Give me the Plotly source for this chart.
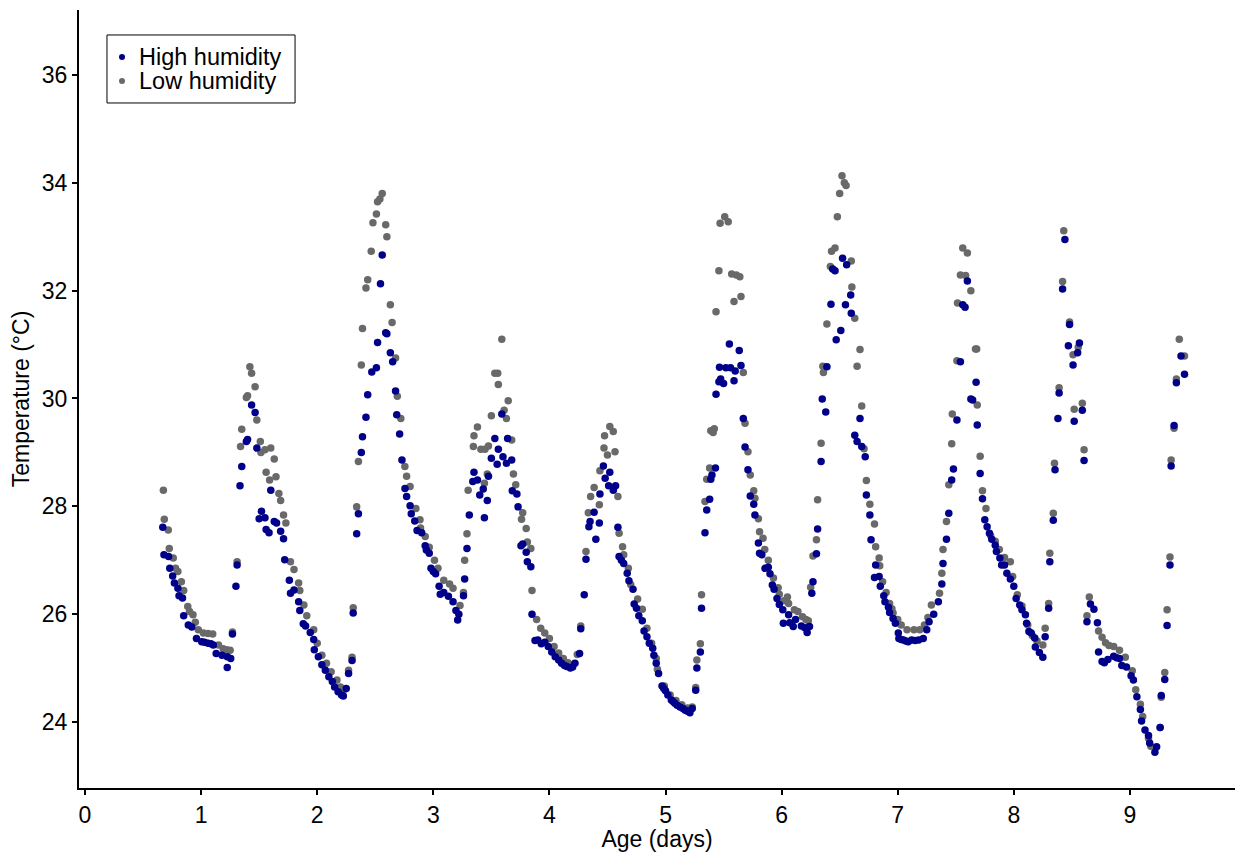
import plotly.graph_objects as go

# (age in days, temperature in °C)
high_humidity = [
    (0.67, 27.61), (0.68, 27.10), (0.72, 27.07), (0.73, 26.85), (0.755, 26.71), (0.77, 26.58),
    (0.80, 26.48), (0.81, 26.34), (0.84, 26.30), (0.85, 25.97), (0.89, 25.80), (0.92, 25.76),
    (0.96, 25.55), (1.005, 25.49), (1.03, 25.48), (1.06, 25.46), (1.085, 25.45), (1.105, 25.43),
    (1.13, 25.27), (1.18, 25.24), (1.225, 25.21), (1.225, 25.01), (1.255, 25.18),
    (1.27, 25.63), (1.30, 26.52), (1.31, 26.91), (1.335, 28.38), (1.35, 28.74), (1.39, 29.20),
    (1.40, 29.24), (1.435, 29.88), (1.465, 29.74), (1.48, 29.08), (1.50, 27.77), (1.52, 27.91),
    (1.55, 27.79), (1.56, 27.57), (1.585, 27.51), (1.60, 28.30), (1.63, 27.72), (1.65, 27.69),
    (1.685, 27.54), (1.71, 27.40), (1.72, 27.01), (1.76, 26.63), (1.77, 26.39), (1.80, 26.45),
    (1.84, 26.23), (1.85, 26.07), (1.88, 25.82), (1.90, 25.78), (1.94, 25.66), (1.97, 25.53),
    (1.975, 25.34), (2.01, 25.21), (2.04, 25.06), (2.07, 24.96), (2.10, 24.84), (2.13, 24.75),
    (2.15, 24.65), (2.18, 24.56), (2.21, 24.50), (2.225, 24.48), (2.25, 24.62),
    (2.27, 24.90), (2.30, 25.14), (2.31, 26.02), (2.34, 27.49), (2.355, 27.86), (2.38, 29.00),
    (2.39, 29.29), (2.42, 29.65), (2.435, 30.07), (2.47, 30.49), (2.51, 30.57), (2.52, 31.04),
    (2.545, 32.13), (2.56, 32.66), (2.59, 31.22), (2.60, 31.20), (2.63, 30.85), (2.65, 30.68),
    (2.675, 30.14), (2.685, 29.70), (2.71, 29.34), (2.73, 28.86), (2.756, 28.33), (2.77, 28.18),
    (2.80, 28.01), (2.81, 27.86), (2.84, 27.73), (2.86, 27.55), (2.90, 27.51), (2.93, 27.27),
    (2.94, 27.19), (2.965, 27.13), (2.98, 26.85), (3.00, 26.79), (3.02, 26.75), (3.05, 26.52),
    (3.06, 26.37), (3.09, 26.40), (3.13, 26.33), (3.17, 26.23), (3.195, 26.07), (3.21, 25.89),
    (3.22, 26.00), (3.26, 26.34),
    (3.27, 26.65), (3.29, 27.22), (3.31, 27.84), (3.34, 28.46), (3.35, 28.63), (3.38, 28.49),
    (3.40, 28.21), (3.43, 28.32), (3.44, 27.79), (3.465, 28.11), (3.475, 28.56), (3.50, 28.89),
    (3.53, 29.26), (3.55, 28.78), (3.56, 29.06), (3.59, 29.71), (3.60, 28.92), (3.63, 28.80),
    (3.64, 29.26), (3.675, 28.86), (3.68, 28.29), (3.72, 28.23), (3.73, 27.99), (3.755, 27.27),
    (3.77, 27.30), (3.80, 27.15), (3.81, 26.97), (3.84, 26.88), (3.85, 26.00), (3.876, 25.51),
    (3.90, 25.52), (3.93, 25.45), (3.96, 25.48), (3.99, 25.40), (4.02, 25.30), (4.05, 25.21),
    (4.08, 25.15), (4.105, 25.09), (4.13, 25.05), (4.15, 25.03), (4.18, 25.00), (4.20, 25.02),
    (4.22, 25.09), (4.26, 25.27),
    (4.27, 25.73), (4.30, 26.36), (4.315, 27.02), (4.34, 27.62), (4.35, 27.72), (4.385, 27.89),
    (4.40, 27.39), (4.43, 27.69), (4.435, 28.23), (4.465, 28.75), (4.48, 28.52), (4.51, 28.38),
    (4.52, 28.63), (4.55, 28.30), (4.57, 28.38), (4.59, 27.61), (4.60, 27.07), (4.62, 27.00),
    (4.64, 26.94), (4.67, 26.76), (4.685, 26.62), (4.72, 26.46), (4.73, 26.19), (4.75, 26.11),
    (4.77, 25.97), (4.80, 25.88), (4.815, 25.69), (4.84, 25.58), (4.86, 25.46), (4.89, 25.37),
    (4.90, 25.24), (4.92, 25.09), (4.94, 24.90), (4.97, 24.67), (4.985, 24.62), (5.00, 24.58),
    (5.02, 24.50), (5.05, 24.41), (5.065, 24.38), (5.08, 24.35), (5.10, 24.31), (5.125, 24.28),
    (5.15, 24.25), (5.17, 24.22), (5.19, 24.20), (5.21, 24.17), (5.23, 24.25), (5.26, 24.59),
    (5.27, 25.00), (5.30, 25.30), (5.31, 26.11), (5.34, 27.51), (5.355, 27.93), (5.38, 28.13),
    (5.39, 28.50), (5.40, 28.58), (5.43, 28.71), (5.435, 30.08), (5.46, 30.31), (5.465, 30.58),
    (5.475, 30.36), (5.50, 30.28), (5.52, 30.57), (5.55, 31.01), (5.56, 30.57), (5.59, 30.33),
    (5.60, 30.51), (5.635, 30.89), (5.65, 30.61), (5.67, 29.63), (5.685, 29.10), (5.71, 28.68),
    (5.73, 28.19), (5.76, 28.04), (5.77, 27.84), (5.80, 27.32), (5.81, 27.13), (5.83, 27.10),
    (5.857, 26.85), (5.885, 26.87), (5.90, 26.75), (5.92, 26.54), (5.935, 26.46), (5.96, 26.29),
    (5.98, 26.18), (6.01, 26.08), (6.015, 25.83), (6.06, 25.99), (6.07, 25.84), (6.10, 25.77),
    (6.12, 25.90), (6.17, 25.78), (6.20, 25.75), (6.22, 25.66), (6.24, 25.77),
    (6.26, 26.39), (6.27, 26.60), (6.30, 27.12), (6.31, 27.58), (6.34, 28.83), (6.35, 29.99),
    (6.38, 29.75), (6.39, 30.59), (6.425, 31.75), (6.44, 32.40), (6.46, 32.37), (6.47, 31.09),
    (6.51, 31.26), (6.525, 32.60), (6.55, 31.74), (6.56, 32.48), (6.595, 31.92), (6.60, 31.58),
    (6.63, 29.32), (6.65, 29.20), (6.675, 29.63), (6.69, 29.11), (6.72, 28.92), (6.73, 28.21),
    (6.76, 27.84), (6.77, 27.38), (6.80, 26.68), (6.81, 26.91), (6.84, 26.70), (6.85, 26.52),
    (6.88, 26.34), (6.89, 26.23), (6.92, 26.13), (6.93, 26.03), (6.96, 25.92), (6.98, 25.83),
    (7.005, 25.65), (7.01, 25.55), (7.03, 25.53), (7.05, 25.52), (7.07, 25.50), (7.09, 25.49),
    (7.12, 25.52), (7.15, 25.51), (7.18, 25.52), (7.22, 25.55), (7.25, 25.71),
    (7.27, 25.86), (7.31, 26.00), (7.35, 26.23), (7.38, 26.56), (7.39, 26.94), (7.42, 27.39),
    (7.44, 27.87), (7.465, 28.49), (7.48, 28.69), (7.51, 29.60), (7.54, 30.68), (7.56, 31.74),
    (7.58, 31.69), (7.60, 32.18), (7.63, 29.99), (7.645, 29.97), (7.675, 30.30), (7.685, 29.51),
    (7.71, 28.61), (7.73, 28.14), (7.75, 27.75), (7.77, 27.62), (7.79, 27.50), (7.81, 27.39),
    (7.84, 27.28), (7.85, 27.16), (7.88, 27.04), (7.895, 26.91), (7.92, 26.91), (7.94, 26.76),
    (7.97, 26.65), (8.00, 26.52), (8.02, 26.29), (8.05, 26.17), (8.07, 26.08), (8.10, 25.99),
    (8.11, 25.83), (8.13, 25.68), (8.15, 25.65), (8.18, 25.56), (8.185, 25.39), (8.22, 25.29),
    (8.25, 25.20),
    (8.27, 25.58), (8.30, 26.11), (8.31, 26.97), (8.34, 27.74), (8.355, 28.68), (8.38, 29.63),
    (8.39, 30.10), (8.42, 32.03), (8.44, 32.95), (8.47, 30.98), (8.48, 31.37), (8.51, 30.62),
    (8.52, 29.58), (8.55, 30.85), (8.565, 31.03), (8.59, 29.78), (8.605, 28.85), (8.63, 25.86),
    (8.66, 26.19), (8.69, 26.09), (8.72, 25.84), (8.73, 25.30), (8.76, 25.12), (8.78, 25.10),
    (8.81, 25.16), (8.86, 25.22), (8.885, 25.19), (8.91, 25.18), (8.93, 25.05), (8.97, 25.02),
    (9.01, 24.86), (9.03, 24.78), (9.06, 24.47), (9.09, 24.23), (9.10, 24.02), (9.13, 23.85),
    (9.16, 23.75), (9.17, 23.61), (9.215, 23.44), (9.23, 23.54), (9.26, 23.90),
    (9.27, 24.49), (9.30, 24.79), (9.32, 25.79), (9.345, 26.91), (9.355, 28.75), (9.38, 29.50),
    (9.40, 30.29), (9.44, 30.79), (9.47, 30.45),
]

low_humidity = [
    (0.675, 28.30), (0.683, 27.76), (0.717, 27.56), (0.726, 27.22), (0.76, 27.04), (0.78, 26.85),
    (0.80, 26.79), (0.83, 26.60), (0.85, 26.44), (0.885, 26.14), (0.90, 26.05), (0.93, 25.99),
    (0.95, 25.85), (0.976, 25.71), (1.02, 25.65), (1.06, 25.64), (1.10, 25.63), (1.15, 25.43),
    (1.19, 25.36), (1.22, 25.34), (1.25, 25.33),
    (1.27, 25.67), (1.31, 26.97), (1.34, 29.11), (1.35, 29.43), (1.39, 30.02), (1.40, 30.05),
    (1.42, 30.59), (1.435, 30.47), (1.465, 30.22), (1.48, 29.60), (1.51, 29.20), (1.515, 29.00),
    (1.55, 29.05), (1.56, 28.63), (1.59, 28.49), (1.60, 29.08), (1.63, 28.88), (1.645, 28.55),
    (1.67, 28.24), (1.685, 28.11), (1.71, 27.84), (1.73, 27.69), (1.77, 26.97), (1.80, 26.83),
    (1.84, 26.58), (1.85, 26.44), (1.885, 26.17), (1.91, 25.97), (1.97, 25.71), (2.00, 25.46),
    (2.04, 25.24), (2.08, 25.09), (2.12, 24.93), (2.17, 24.78), (2.20, 24.65), (2.23, 24.60),
    (2.27, 24.96), (2.30, 25.20), (2.31, 26.12), (2.34, 27.99), (2.355, 28.83), (2.38, 30.62),
    (2.39, 31.30), (2.42, 32.05), (2.435, 32.20), (2.465, 32.73), (2.48, 33.26), (2.51, 33.42),
    (2.52, 33.65), (2.54, 33.70), (2.56, 33.80), (2.59, 33.22), (2.60, 33.00), (2.63, 31.74),
    (2.645, 31.41), (2.675, 30.75), (2.69, 30.04), (2.72, 29.63), (2.755, 28.74), (2.77, 28.56),
    (2.80, 28.37), (2.85, 27.96), (2.885, 27.75), (2.89, 27.60), (2.93, 27.44), (2.965, 27.24),
    (3.01, 27.00), (3.04, 26.85), (3.09, 26.63), (3.14, 26.56), (3.17, 26.48), (3.23, 26.16),
    (3.26, 26.40),
    (3.27, 27.00), (3.29, 27.49), (3.30, 28.30), (3.345, 29.11), (3.35, 29.31), (3.38, 29.47),
    (3.41, 29.06), (3.44, 28.43), (3.445, 29.06), (3.465, 28.60), (3.475, 29.12), (3.50, 29.68),
    (3.53, 30.47), (3.555, 30.47), (3.56, 30.26), (3.59, 31.10), (3.61, 29.78), (3.63, 29.63),
    (3.645, 29.96), (3.675, 29.23), (3.69, 28.60), (3.71, 28.40), (3.76, 27.76), (3.77, 27.88),
    (3.80, 27.59), (3.81, 27.34), (3.84, 27.22), (3.85, 26.44), (3.89, 25.90), (3.925, 25.74),
    (3.96, 25.65), (4.00, 25.55), (4.04, 25.40), (4.08, 25.28), (4.12, 25.18), (4.16, 25.10),
    (4.20, 25.06), (4.24, 25.25),
    (4.27, 25.78), (4.315, 27.16), (4.335, 27.88), (4.355, 28.18), (4.385, 28.35), (4.43, 28.03),
    (4.435, 28.66), (4.47, 29.08), (4.475, 29.31), (4.50, 28.95), (4.52, 29.48), (4.55, 29.39),
    (4.565, 29.01), (4.59, 28.18), (4.60, 27.50), (4.63, 27.25), (4.64, 27.10), (4.68, 26.85),
    (4.70, 26.55), (4.76, 26.28), (4.80, 26.09), (4.84, 25.74), (4.88, 25.46), (4.92, 25.18),
    (4.93, 24.98), (4.99, 24.67), (5.04, 24.50), (5.09, 24.40), (5.14, 24.32), (5.19, 24.26),
    (5.23, 24.28), (5.26, 24.64),
    (5.27, 25.15), (5.30, 25.45), (5.31, 26.36), (5.34, 28.09), (5.355, 28.50), (5.38, 28.71),
    (5.39, 29.40), (5.41, 29.37), (5.42, 29.44), (5.435, 31.61), (5.46, 32.37), (5.47, 33.25),
    (5.51, 33.37), (5.54, 33.28), (5.57, 32.31), (5.59, 31.80), (5.61, 32.29), (5.64, 32.26),
    (5.65, 31.89), (5.67, 30.48), (5.685, 29.54), (5.71, 29.01), (5.73, 28.58), (5.76, 28.29),
    (5.77, 28.15), (5.80, 27.77), (5.81, 27.53), (5.84, 27.41), (5.855, 27.20), (5.885, 27.00),
    (5.93, 26.67), (5.97, 26.49), (5.98, 26.37), (6.02, 26.25), (6.05, 26.32), (6.06, 26.20),
    (6.11, 26.08), (6.14, 26.05), (6.18, 25.95), (6.21, 25.90), (6.23, 25.88),
    (6.25, 26.50), (6.27, 27.08), (6.30, 27.38), (6.31, 28.12), (6.34, 29.17), (6.355, 30.60),
    (6.36, 30.48), (6.39, 31.38), (6.42, 32.45), (6.43, 32.73), (6.46, 32.79), (6.48, 33.37),
    (6.50, 33.80), (6.52, 34.13), (6.54, 34.00), (6.555, 33.95), (6.60, 32.55), (6.605, 32.07),
    (6.63, 31.49), (6.65, 30.60), (6.675, 30.91), (6.69, 29.86), (6.71, 29.07), (6.73, 28.48),
    (6.76, 28.04), (6.80, 27.67), (6.81, 27.25), (6.84, 27.04), (6.845, 26.90), (6.87, 26.60),
    (6.90, 26.40), (6.93, 26.20), (6.95, 26.10), (6.96, 26.02), (7.00, 25.90), (7.03, 25.80),
    (7.08, 25.71), (7.14, 25.71), (7.19, 25.71), (7.23, 25.80),
    (7.26, 25.94), (7.29, 26.17), (7.36, 26.39), (7.38, 26.76), (7.39, 27.20), (7.42, 27.72),
    (7.44, 28.40), (7.465, 29.16), (7.47, 29.71), (7.51, 30.70), (7.515, 31.77), (7.54, 32.29),
    (7.56, 32.79), (7.585, 32.28), (7.60, 32.70), (7.63, 32.00), (7.67, 30.92), (7.68, 30.92),
    (7.685, 29.88), (7.71, 28.93), (7.73, 28.29), (7.76, 27.96), (7.80, 27.46), (7.84, 27.35),
    (7.875, 27.20), (7.92, 27.05), (7.97, 26.97), (7.99, 26.70), (8.03, 26.36), (8.07, 26.15),
    (8.12, 25.80), (8.16, 25.60), (8.20, 25.50), (8.25, 25.43),
    (8.27, 25.74), (8.30, 26.20), (8.31, 27.13), (8.34, 27.87), (8.35, 28.80), (8.39, 30.20),
    (8.42, 32.17), (8.43, 33.11), (8.48, 31.42), (8.51, 30.81), (8.52, 29.80), (8.555, 30.95),
    (8.59, 29.91), (8.605, 29.05), (8.63, 25.97), (8.65, 26.32), (8.73, 25.69), (8.76, 25.57),
    (8.79, 25.47), (8.82, 25.42), (8.86, 25.40), (8.91, 25.33), (8.96, 25.20), (9.02, 24.95),
    (9.05, 24.60), (9.09, 24.33), (9.11, 24.10), (9.16, 23.70), (9.18, 23.55), (9.26, 23.90),
    (9.27, 24.46), (9.30, 24.92), (9.32, 26.08), (9.345, 27.06), (9.355, 28.86), (9.38, 29.45),
    (9.40, 30.36), (9.425, 31.10), (9.47, 30.79),
]

x_ticks = [0, 1, 2, 3, 4, 5, 6, 7, 8, 9]
y_ticks = [24, 26, 28, 30, 32, 34, 36]
series_names = ["High humidity", "Low humidity"]
series_colors = ["#00008B", "#696969"]

FONT = "Liberation Sans, Arial, sans-serif"

fig = go.Figure()
fig.add_trace(go.Scatter(
    x=[p[0] for p in low_humidity], y=[p[1] for p in low_humidity],
    mode="markers", name=series_names[1], showlegend=False,
    marker=dict(color=series_colors[1], size=7.5, line=dict(width=0)),
))
fig.add_trace(go.Scatter(
    x=[p[0] for p in high_humidity], y=[p[1] for p in high_humidity],
    mode="markers", name=series_names[0], showlegend=False,
    marker=dict(color=series_colors[0], size=7.5, line=dict(width=0)),
))

# Compact legend box (ggplot-like spacing), placed in paper coordinates
legend_x0, legend_x1 = 0.0242, 0.1869
legend_y0, legend_y1 = 0.8805, 0.9679
legend_rows_y = [0.9396, 0.9087]
marker_x = 0.0372
text_x = 0.0502

shapes = [dict(type="rect", xref="paper", yref="paper",
               x0=legend_x0, x1=legend_x1, y0=legend_y0, y1=legend_y1,
               line=dict(color="black", width=1), fillcolor="white", layer="above")]
annotations = []
for name, color, yy in zip(series_names, series_colors, legend_rows_y):
    shapes.append(dict(type="circle", xref="paper", yref="paper",
                       xsizemode="pixel", ysizemode="pixel",
                       xanchor=marker_x, yanchor=yy, x0=-3, x1=3, y0=-3, y1=3,
                       fillcolor=color, line=dict(width=0), layer="above"))
    annotations.append(dict(xref="paper", yref="paper", x=text_x, y=yy,
                            xanchor="left", yanchor="middle", showarrow=False,
                            text=name, font=dict(family=FONT, size=23.5, color="black")))

fig.update_layout(
    width=1238, height=852,
    margin=dict(l=79, r=3, t=10, b=64),
    paper_bgcolor="white", plot_bgcolor="white",
    font=dict(family=FONT, size=23, color="black"),
    showlegend=False,
    shapes=shapes, annotations=annotations,
)
fig.update_xaxes(
    range=[-0.0517, 9.905], tickvals=x_ticks, ticktext=[str(v) for v in x_ticks],
    showgrid=False, zeroline=False, showline=True, linecolor="black", linewidth=2,
    ticks="outside", ticklen=5, tickwidth=2, tickcolor="black",
    title=dict(text="Age (days)", font=dict(size=23), standoff=4),
    tickfont=dict(size=23),
)
fig.update_yaxes(
    range=[22.776, 37.205], tickvals=y_ticks, ticktext=[str(v) for v in y_ticks],
    showgrid=False, zeroline=False, showline=True, linecolor="black", linewidth=2,
    ticks="outside", ticklen=5, tickwidth=2, tickcolor="black",
    title=dict(text="Temperature (°C)", font=dict(size=23), standoff=6),
    tickfont=dict(size=23),
)

fig.write_html("out.html")
